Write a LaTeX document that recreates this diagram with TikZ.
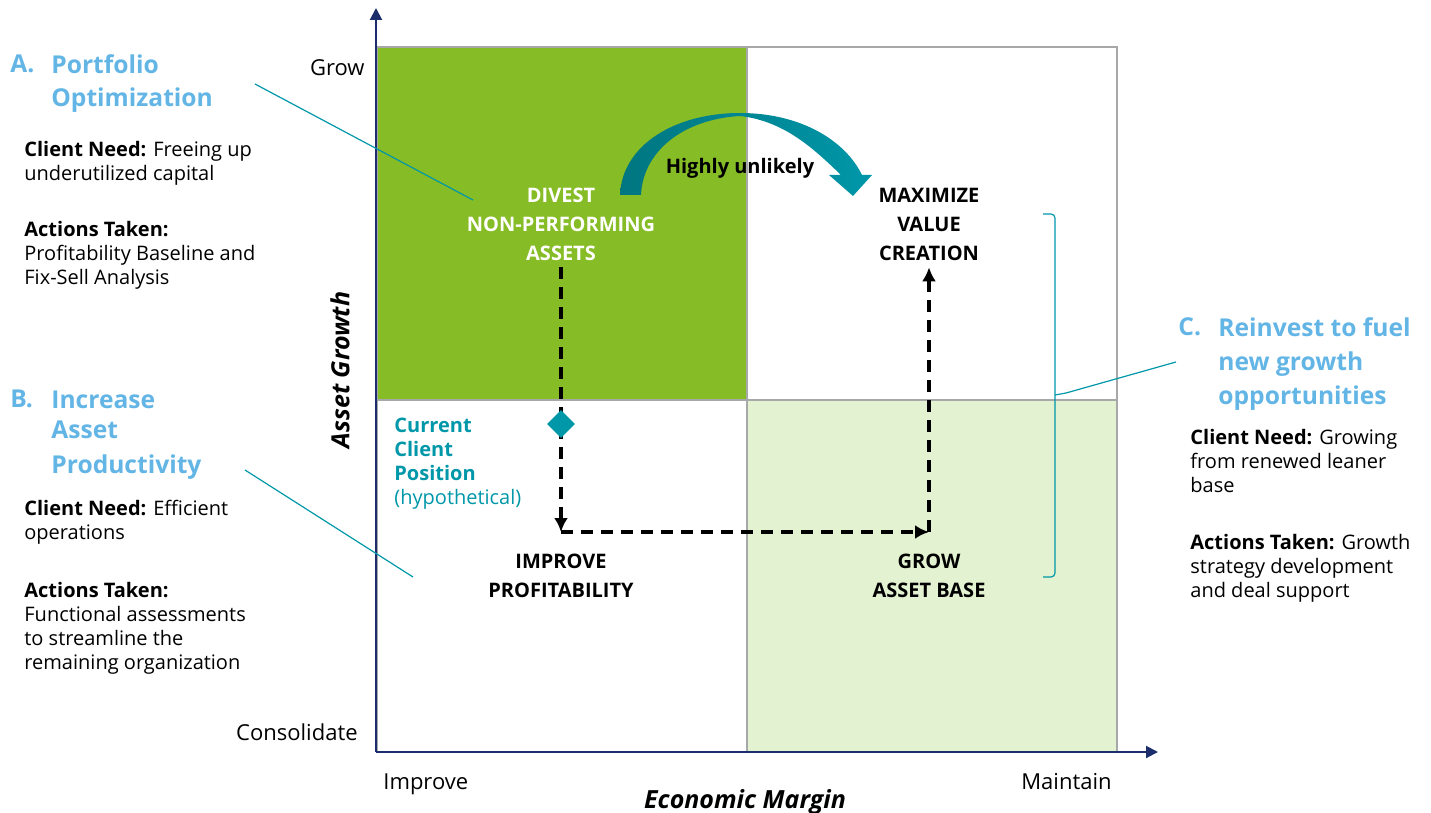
\documentclass[tikz,border=0pt]{standalone}
\usepackage{fontspec}
\setmainfont{Open Sans}
\usetikzlibrary{arrows.meta,shapes.geometric}
\definecolor{dgreen}{HTML}{86BC25}
\definecolor{lgreen}{HTML}{E3F2D0}
\definecolor{dteal}{HTML}{007680}
\definecolor{mteal}{HTML}{0097A9}
\definecolor{hblue}{HTML}{62B5E5}
\definecolor{axisblue}{HTML}{1B2D6B}
\definecolor{gridgray}{HTML}{A7A8AA}
\begin{document}
\begin{tikzpicture}[
x=0.5pt,y=-0.5pt,
quadtext/.style={
  font=\fontsize{10}{14.5}\selectfont\bfseries,
  align=center
  },
ticktext/.style={font=\fontsize{11}{13}\selectfont,inner sep=0pt},
axistitle/.style={font=\fontsize{12.5}{15}\selectfont\bfseries\itshape,inner sep=0pt},
header/.style={
  font=\fontsize{12.3}{16.5}\selectfont\bfseries,
  text=hblue,
  align=left,
  inner sep=0pt
  },
body/.style={
  font=\fontsize{10}{12}\selectfont,
  align=left,
  anchor=north west,
  inner sep=0pt
  },
callout/.style={mteal,line width=0.6pt},
flow/.style={dash pattern=on 6pt off 4pt,line width=1.8pt,-{Latex[length=7pt,width=7pt]}},
axis/.style={axisblue,line width=1pt,-{Triangle[length=6pt,width=6pt]}}
]
\useasboundingbox (0,0) rectangle (1431,813);
\fill[dgreen] (377,47) rectangle (747,400);
\fill[lgreen] (747,400) rectangle (1117,752);
\draw[gridgray,line width=1pt] (377,47) rectangle (1117,752)
  (377,400) -- (1117,400) (747,47) -- (747,752);
\coordinate (origin) at (376,752);
\coordinate (ytop) at (376,8);
\coordinate (xend) at (1158,752);
\draw[axis] (origin) -- (ytop);
\draw[axis] (origin) -- (xend);

\node[ticktext,anchor=east] (grow) at (365,68) {Grow};
\node[ticktext,anchor=east] (consol) at (358,732) {Consolidate};
\node[ticktext,anchor=base west] (improve) at (383,789) {Improve};
\node[ticktext,anchor=base east] (maintain) at (1112,789) {Maintain};
\node[axistitle,anchor=base] (margin) at (745,808) {Economic Margin};
\node[axistitle,rotate=90] (growth) at (340,370) {Asset Growth};

\node[quadtext,text=white] (divest) at (561,224) {DIVEST\\NON-PERFORMING\\ASSETS};
\node[quadtext] (maxim) at (929,224) {MAXIMIZE\\VALUE\\CREATION};
\node[quadtext] (profit) at (561,576) {IMPROVE\\PROFITABILITY};
\node[quadtext] (base) at (929,576) {GROW\\ASSET BASE};

\shade[left color=dteal,right color=mteal]
  (620,195) .. controls (622,145) and (675,113) .. (740,113)
  .. controls (800,113) and (845,140) .. (862,175)
  -- (872,175) -- (853,196) -- (829,175) -- (841,175)
  .. controls (815,150) and (785,121) .. (740,116)
  .. controls (685,119) and (643,150) .. (641,195) -- cycle;
\node[font=\fontsize{10}{12}\selectfont\bfseries] (unlikely) at (740,168) {Highly unlikely};

\coordinate (bend1) at (561,532);
\coordinate (bend2) at (929,532);
\draw[flow] (divest.south) -- (bend1);
\draw[flow] (bend1) -- (bend2);
\draw[flow] (bend2) -- (maxim.south);
\node[diamond,fill=mteal,minimum size=14pt,inner sep=0pt] (pos) at (561,424) {};
\node[body,text=mteal] (current) at (394,418)
  {\bfseries Current\\\bfseries Client\\\bfseries Position\\(hypothetical)};

\node[header,anchor=base west] (la) at (10,72.5) {A.};
\node[header,anchor=north west] (ha) at (51,54.5) {Portfolio\\Optimization};
\node[body] (needa) at (24,141) {\textbf{Client Need:} Freeing up\\underutilized capital};
\node[body] (acta) at (24,221) {\textbf{Actions Taken:}\\Profitability Baseline and\\Fix-Sell Analysis};

\node[header,anchor=base west] (lb) at (10,407.5) {B.};
\node[header,anchor=north west,font=\fontsize{12.3}{15}\selectfont\bfseries] (hb) at (51,390.5)
  {Increase\\Asset\\[2.5pt]Productivity};
\node[body] (needb) at (24,500) {\textbf{Client Need:} Efficient\\operations};
\node[body] (actb) at (24,582) {\textbf{Actions Taken:}\\Functional assessments\\to streamline the\\remaining organization};

\node[header,anchor=base west] (lc) at (1178,335.5) {C.};
\node[header,anchor=north west,font=\fontsize{12.3}{17}\selectfont\bfseries] (hc) at (1218,317.5)
  {Reinvest to fuel\\new growth\\opportunities};
\node[body] (needc) at (1190,429) {\textbf{Client Need:} Growing\\from renewed leaner\\base};
\node[body] (actc) at (1190,534) {\textbf{Actions Taken:} Growth\\strategy development\\and deal support};

\coordinate (a1) at (255,84);
\coordinate (a2) at (473,200);
\coordinate (b1) at (245,470);
\coordinate (b2) at (413,577);
\coordinate (brtop) at (1043,214);
\coordinate (brbot) at (1043,577);
\coordinate (brmid) at (1055,395);
\coordinate (brtip) at (1066,393);
\coordinate (c1) at (1176,362);
\draw[callout] (a1) -- (a2);
\draw[callout] (b1) -- (b2);
\draw[callout,rounded corners=2pt] (brtop) -| (brmid) |- (brbot);
\draw[callout] (brmid) -- (brtip) -- (c1);
\end{tikzpicture}
\end{document}
